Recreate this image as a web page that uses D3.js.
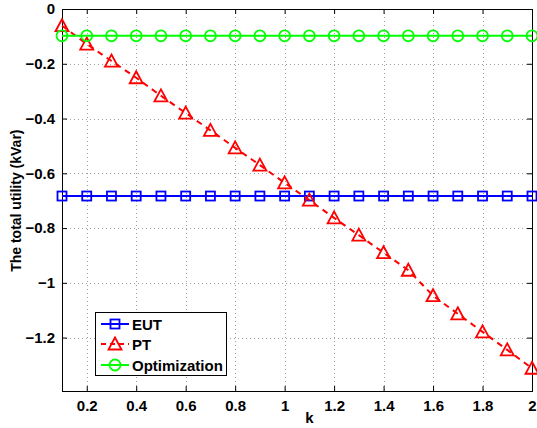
<!DOCTYPE html>
<html><head><meta charset="utf-8">
<script src="https://cdn.jsdelivr.net/npm/d3@7"></script>
<style>body{margin:0;background:#fff}svg{display:block}text{font-family:"Liberation Sans",Arial,sans-serif;font-weight:bold}</style>
</head><body>
<script>
const kValues = [0.1,0.2,0.3,0.4,0.5,0.6,0.7,0.8,0.9,1.0,1.1,1.2,1.3,1.4,1.5,1.6,1.7,1.8,1.9,2.0];
const eutValues = [-0.683,-0.683,-0.683,-0.683,-0.683,-0.683,-0.683,-0.683,-0.683,-0.683,-0.683,-0.683,-0.683,-0.683,-0.683,-0.683,-0.683,-0.683,-0.683,-0.683];
const ptValues = [-0.061,-0.128,-0.19,-0.251,-0.317,-0.38,-0.443,-0.507,-0.57,-0.635,-0.698,-0.763,-0.826,-0.89,-0.954,-1.047,-1.113,-1.179,-1.245,-1.312];
const optValues = [-0.098,-0.098,-0.098,-0.098,-0.098,-0.098,-0.098,-0.098,-0.098,-0.098,-0.098,-0.098,-0.098,-0.098,-0.098,-0.098,-0.098,-0.098,-0.098,-0.098];
const xTicks = [0.2,0.4,0.6,0.8,1,1.2,1.4,1.6,1.8,2];
const yTicks = [0,-0.2,-0.4,-0.6,-0.8,-1,-1.2];
const seriesNames = ["EUT","PT","Optimization"];

(function(){
const W = 537, H = 428;
const pL = 62, pR = 532, pT = 9, pB = 391;
const svg = d3.select("body").append("svg").attr("width", W).attr("height", H);
const x = d3.scaleLinear().domain([0.1, 2]).range([pL, pR]);
const y = d3.scaleLinear().domain([-1.395, 0]).range([pB, pT]);

// grid
const grid = svg.append("g").attr("stroke", "#a0a0a0").attr("stroke-width", 1).attr("stroke-dasharray", "1,3");
xTicks.forEach(t => { if (t < 2) grid.append("line").attr("x1", Math.round(x(t))+0.5).attr("x2", Math.round(x(t))+0.5).attr("y1", pT).attr("y2", pB); });
yTicks.forEach(t => { if (t < 0) grid.append("line").attr("y1", Math.round(y(t))+0.5).attr("y2", Math.round(y(t))+0.5).attr("x1", pL).attr("x2", pR); });

// axes
const fmt = d => d === 0 ? "0" : (d < 0 ? "\u2212" + d3.format("")(-d) : d3.format("")(d));
const xAxis = svg.append("g").attr("transform", `translate(0,${pB})`)
  .call(d3.axisBottom(x).tickValues(xTicks).tickSize(-5).tickPadding(9).tickFormat(fmt));
const xAxisTop = svg.append("g").attr("transform", `translate(0,${pT})`)
  .call(d3.axisTop(x).tickValues(xTicks).tickSize(-5).tickFormat(""));
const yAxis = svg.append("g").attr("transform", `translate(${pL},0)`)
  .call(d3.axisLeft(y).tickValues(yTicks).tickSize(-5).tickPadding(7).tickFormat(fmt));
const yAxisR = svg.append("g").attr("transform", `translate(${pR},0)`)
  .call(d3.axisRight(y).tickValues(yTicks).tickSize(-5).tickFormat(""));
[xAxis, xAxisTop, yAxis, yAxisR].forEach(g => {
  g.select(".domain").remove();
  g.selectAll("line").attr("stroke", "#000");
  g.selectAll("text").attr("font-size", 15).attr("fill", "#000").attr("font-family", "Liberation Sans, Arial, sans-serif").attr("font-weight", "bold");
});
svg.append("rect").attr("x", pL+0.5).attr("y", pT+0.5).attr("width", pR-pL).attr("height", pB-pT)
  .attr("fill", "none").attr("stroke", "#000").attr("stroke-width", 1);

// labels
svg.append("text").attr("x", x(1.1)).attr("y", 423).attr("text-anchor", "middle").attr("font-size", 15).text("k");
svg.append("text").attr("transform", `translate(21,${y(-0.7)}) rotate(-90)`).attr("text-anchor", "middle").attr("font-size", 14).text("The total utility (kVar)");

// series
const colors = ["#0000ff", "#ff0000", "#00ff00"];
const data = [eutValues, ptValues, optValues];
const dashes = [null, "6,5", null];
const line = d3.line().x((d, i) => x(kValues[i])).y(d => y(d));

function marker(g, type, cx, cy) {
  if (type === 0) g.append("rect").attr("x", cx-4.5).attr("y", cy-4.5).attr("width", 9).attr("height", 9);
  else if (type === 1) g.append("path").attr("d", `M${cx},${cy-6.5}L${cx+6.5},${cy+5.5}L${cx-6.5},${cy+5.5}Z`);
  else g.append("circle").attr("cx", cx).attr("cy", cy).attr("r", 5.5);
}

data.forEach((vals, s) => {
  const g = svg.append("g");
  g.append("path").attr("d", line(vals)).attr("fill", "none").attr("stroke", colors[s])
    .attr("stroke-width", 2).attr("stroke-dasharray", dashes[s]);
  const mg = g.append("g").attr("fill", "none").attr("stroke", colors[s]).attr("stroke-width", 1.8);
  vals.forEach((v, i) => marker(mg, s, x(kValues[i]), y(v)));
});

// legend
const lg = svg.append("g");
lg.append("rect").attr("x", 95.5).attr("y", 312.5).attr("width", 131).attr("height", 63).attr("fill", "#fff").attr("stroke", "#000");
const rows = [324, 344, 365];
seriesNames.forEach((name, s) => {
  lg.append("line").attr("x1", 101).attr("x2", 129).attr("y1", rows[s]).attr("y2", rows[s]).attr("stroke", colors[s]).attr("stroke-width", 2).attr("stroke-dasharray", dashes[s] ? "5,4" : null);
  const mg = lg.append("g").attr("fill", "none").attr("stroke", colors[s]).attr("stroke-width", 1.8);
  marker(mg, s, 115, rows[s]);
  lg.append("text").attr("x", 132).attr("y", rows[s]+5.5).attr("font-size", 15).text(name);
});
})();
</script>
</body></html>
